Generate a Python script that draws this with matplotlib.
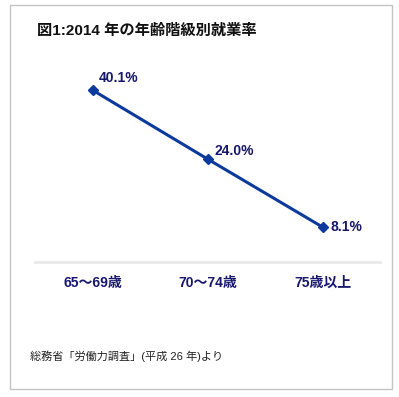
import matplotlib.pyplot as plt
from matplotlib.patches import Rectangle

plt.rcParams['font.family'] = ['Liberation Sans', 'Noto Sans CJK JP', 'DejaVu Sans']

# data
categories = ["65～69歳", "70～74歳", "75歳以上"]
rates = [40.1, 24.0, 8.1]
labels = ["40.1%", "24.0%", "8.1%"]
# label offsets in pixels (dx, dy)
offsets = [(6, 12), (7, 8), (8, 0)]

line_color = "#0b3a9c"
text_color = "#17176e"

fig = plt.figure(figsize=(3.99, 3.97), dpi=100)
fig.patch.set_facecolor("white")

# outer frame
fig.patches.append(Rectangle((10 / 399, 1 - 389 / 397), 382 / 399, 384 / 397,
                             transform=fig.transFigure, fill=False,
                             edgecolor="#c4c4c4", linewidth=1.0))

fig.text(37 / 399, 1 - 31 / 397, "図1:2014 年の年齢階級別就業率",
         fontsize=11, fontweight="bold", color="#111111", va="center", ha="left")

ax = fig.add_axes([35 / 399, 1 - 261.7 / 397, 345 / 399, 214 / 397])
x = list(range(len(categories)))
ax.plot(x, rates, color=line_color, linewidth=2.2, marker="D", markersize=5.5,
        markerfacecolor=line_color, markeredgecolor=line_color)

for xi, v, lab, (dx, dy) in zip(x, rates, labels, offsets):
    ax.annotate(lab, (xi, v), xytext=(dx * 0.72, dy * 0.72), textcoords="offset points",
                ha="left", va="center", fontsize=10, fontweight="bold", color=text_color)

ax.set_xlim(-0.5, 2.5)
ax.set_ylim(0, 50)
ax.set_xticks(x)
ax.set_xticklabels(categories, fontsize=10, fontweight="bold", color=text_color)
ax.tick_params(axis="x", length=0, pad=10)
ax.set_yticks([])
for side in ["left", "right", "top"]:
    ax.spines[side].set_visible(False)
ax.spines["bottom"].set_color("#e6e6e6")
ax.spines["bottom"].set_linewidth(1.8)
ax.patch.set_alpha(0)

fig.text(30 / 399, 1 - 356 / 397, "総務省「労働力調査」(平成 26 年)より",
         fontsize=8, color="#222222", va="center", ha="left")

fig.savefig("out.png", dpi=100)
